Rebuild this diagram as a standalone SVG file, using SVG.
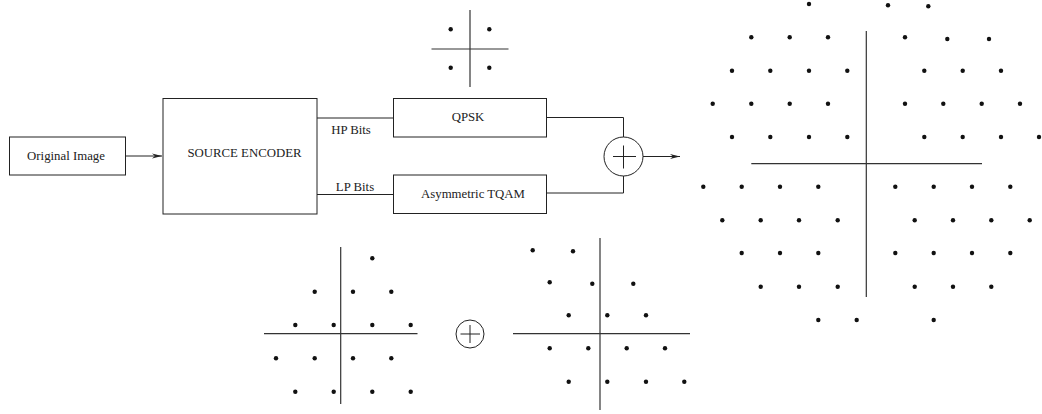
<svg xmlns="http://www.w3.org/2000/svg" width="1042" height="414" viewBox="0 0 1042 414">
<style>
.box{fill:#fff;stroke:#222;stroke-width:1}
.ln{fill:none;stroke:#222;stroke-width:1}
.ax{fill:none;stroke:#333;stroke-width:1.2}
.t{font-family:"Liberation Serif","Times New Roman",serif;font-size:12.8px;fill:#222;text-anchor:middle}
.d{fill:#111}
</style>
<defs>
<marker id="ah" viewBox="0 0 10 6" refX="10" refY="3" markerWidth="10" markerHeight="6" markerUnits="userSpaceOnUse" orient="auto">
<path d="M0,0.5 L10,3 L0,5.5 L3,3 Z" fill="#222"/>
</marker>
<circle id="p" r="2.2" class="d"/>
</defs>
<rect width="1042" height="414" fill="#fff"/>

<g id="connectors">
<line class="ln" x1="125" y1="156" x2="162" y2="156" marker-end="url(#ah)"/>
<line class="ln" x1="317" y1="118" x2="393" y2="118"/>
<line class="ln" x1="317" y1="194.5" x2="393" y2="194.5"/>
<polyline class="ln" points="547,117.5 623.5,117.5 623.5,137"/>
<polyline class="ln" points="547,193 623.5,193 623.5,176"/>
<line class="ln" x1="643" y1="156.5" x2="680" y2="156.5" marker-end="url(#ah)"/>
</g>

<g id="original-image">
<rect class="box" x="9.5" y="137" width="116" height="38"/>
<text class="t" x="66" y="160">Original Image</text>
</g>

<g id="source-encoder">
<rect class="box" x="163" y="98.5" width="154" height="115.5"/>
<text class="t" x="244.5" y="157">SOURCE ENCODER</text>
</g>

<g id="labels">
<text class="t" x="351" y="134">HP Bits</text>
<text class="t" x="355" y="191">LP Bits</text>
</g>

<g id="qpsk">
<rect class="box" x="393.5" y="98.5" width="153" height="38.5"/>
<text class="t" x="468" y="121">QPSK</text>
</g>

<g id="tqam">
<rect class="box" x="393.5" y="175" width="153" height="38.5"/>
<text class="t" x="473" y="198">Asymmetric TQAM</text>
</g>

<g id="adder">
<circle class="ln" cx="623.5" cy="156.5" r="19.5"/>
<line class="ln" x1="613" y1="156.5" x2="636" y2="156.5"/>
<line class="ln" x1="623.5" y1="145.5" x2="623.5" y2="168.5"/>
</g>

<g id="qpsk-constellation">
<line class="ax" x1="470" y1="10" x2="470" y2="87"/>
<line class="ax" x1="431.5" y1="49" x2="508.5" y2="49"/>
<use href="#p" x="450.7" y="29.3"/><use href="#p" x="489.3" y="29.3"/>
<use href="#p" x="450.7" y="67.7"/><use href="#p" x="489.3" y="67.7"/>
</g>

<g id="hp-constellation">
<line class="ax" x1="340.7" y1="247" x2="340.7" y2="404"/>
<line class="ax" x1="264" y1="333.7" x2="417.5" y2="333.7"/>
<use href="#p" x="372.3" y="258.3"/>
<use href="#p" x="314.7" y="291.7"/><use href="#p" x="353" y="291.7"/><use href="#p" x="391.3" y="291.7"/>
<use href="#p" x="295.3" y="325"/><use href="#p" x="333.7" y="325"/><use href="#p" x="372.3" y="325"/><use href="#p" x="410.7" y="325"/>
<use href="#p" x="276" y="358.3"/><use href="#p" x="314.7" y="358.3"/><use href="#p" x="353" y="358.3"/><use href="#p" x="391.3" y="358.3"/>
<use href="#p" x="295.3" y="391.7"/><use href="#p" x="333.7" y="391.7"/><use href="#p" x="372.3" y="391.7"/><use href="#p" x="410.7" y="391.7"/>
</g>

<g id="small-adder">
<circle class="ln" cx="470" cy="334" r="14"/>
<line class="ln" x1="460.5" y1="334" x2="480" y2="334"/>
<line class="ln" x1="470" y1="325" x2="470" y2="343"/>
</g>

<g id="lp-constellation">
<line class="ax" x1="600" y1="238" x2="600" y2="410"/>
<line class="ax" x1="513" y1="333.7" x2="690" y2="333.7"/>
<use href="#p" x="532.7" y="250.3"/><use href="#p" x="573" y="251.3"/>
<use href="#p" x="549.7" y="282.3"/><use href="#p" x="592.3" y="283.7"/><use href="#p" x="633.3" y="283.7"/>
<use href="#p" x="568.7" y="315.3"/><use href="#p" x="607.3" y="315.3"/><use href="#p" x="646" y="315.3"/>
<use href="#p" x="549.7" y="348.3"/><use href="#p" x="588.3" y="348.3"/><use href="#p" x="626.7" y="348.3"/><use href="#p" x="665" y="348.3"/>
<use href="#p" x="568.7" y="381.7"/><use href="#p" x="607.3" y="381.7"/><use href="#p" x="646" y="381.7"/><use href="#p" x="684.3" y="381.7"/>
</g>

<g id="combined-constellation">
<line class="ax" x1="866.3" y1="31" x2="866.3" y2="297"/>
<line class="ax" x1="751.3" y1="163.7" x2="982" y2="163.7"/>
<use href="#p" x="809" y="4"/><use href="#p" x="888" y="5.3"/><use href="#p" x="928.3" y="6.3"/>
<use href="#p" x="751.3" y="37.3"/><use href="#p" x="789.7" y="37.3"/><use href="#p" x="828" y="37.3"/><use href="#p" x="905" y="37.3"/><use href="#p" x="947.3" y="39"/><use href="#p" x="989" y="39"/>
<use href="#p" x="732" y="70.7"/><use href="#p" x="770.3" y="70.7"/><use href="#p" x="809" y="70.7"/><use href="#p" x="847.3" y="70.7"/><use href="#p" x="924.3" y="70.7"/><use href="#p" x="962.7" y="70.7"/><use href="#p" x="1001" y="70.7"/>
<use href="#p" x="712.7" y="103.7"/><use href="#p" x="751.3" y="103.7"/><use href="#p" x="789.7" y="103.7"/><use href="#p" x="828" y="103.7"/><use href="#p" x="905" y="103.7"/><use href="#p" x="943.3" y="103.7"/><use href="#p" x="981.7" y="103.7"/><use href="#p" x="1020" y="103.7"/>
<use href="#p" x="732" y="137"/><use href="#p" x="770.3" y="137"/><use href="#p" x="809" y="137"/><use href="#p" x="847.3" y="137"/><use href="#p" x="924.3" y="137"/><use href="#p" x="962.7" y="137"/><use href="#p" x="1001" y="137"/><use href="#p" x="1039" y="137"/>
<use href="#p" x="703.3" y="186.7"/><use href="#p" x="741.7" y="186.7"/><use href="#p" x="780" y="186.7"/><use href="#p" x="818.3" y="186.7"/><use href="#p" x="895.3" y="186.7"/><use href="#p" x="933.7" y="186.7"/><use href="#p" x="972" y="186.7"/><use href="#p" x="1010.3" y="186.7"/>
<use href="#p" x="722.3" y="220.3"/><use href="#p" x="760.7" y="220.3"/><use href="#p" x="799" y="220.3"/><use href="#p" x="837.7" y="220.3"/><use href="#p" x="914.7" y="220.3"/><use href="#p" x="953" y="220.3"/><use href="#p" x="991.3" y="220.3"/><use href="#p" x="1029.7" y="220.3"/>
<use href="#p" x="741.7" y="253"/><use href="#p" x="780" y="253"/><use href="#p" x="818.3" y="253"/><use href="#p" x="895.3" y="253"/><use href="#p" x="933.7" y="253"/><use href="#p" x="972" y="253"/><use href="#p" x="1010.3" y="253"/>
<use href="#p" x="760.7" y="286.7"/><use href="#p" x="799" y="286.7"/><use href="#p" x="837.7" y="286.7"/><use href="#p" x="914.7" y="286.7"/><use href="#p" x="953" y="286.7"/><use href="#p" x="991.3" y="286.7"/>
<use href="#p" x="818.3" y="320"/><use href="#p" x="856.7" y="320"/><use href="#p" x="933.7" y="320"/>
</g>
</svg>
